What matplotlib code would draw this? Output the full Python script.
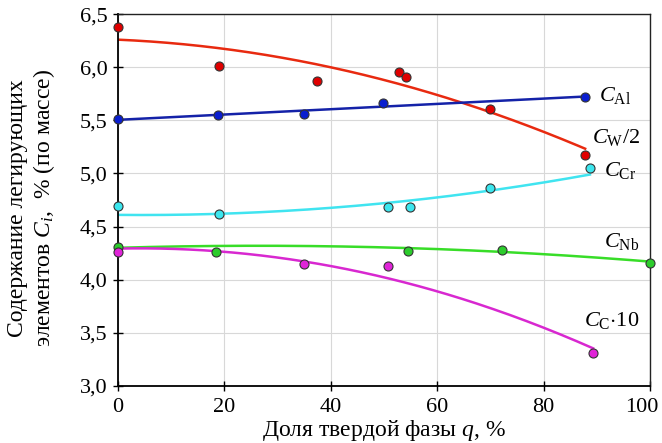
import numpy as np
import matplotlib.pyplot as plt
from matplotlib.ticker import FuncFormatter
from matplotlib.transforms import ScaledTranslation

plt.rcParams['font.family'] = ['Liberation Serif', 'DejaVu Serif']
plt.rcParams['mathtext.fontset'] = 'custom'
plt.rcParams['mathtext.rm'] = 'Liberation Serif'
plt.rcParams['mathtext.it'] = 'Liberation Serif:italic'

# measured points: solid fraction q (%) vs element content
q_w = [0, 19, 37.5, 52.9, 54.2, 69.9, 87.8]
c_w = [6.38, 6.01, 5.87, 5.96, 5.91, 5.61, 5.17]

q_al = [0, 18.9, 34.9, 49.9, 87.8]
c_al = [5.51, 5.55, 5.56, 5.66, 5.72]

q_cr = [0, 19, 50.8, 54.8, 69.9, 88.7]
c_cr = [4.69, 4.62, 4.68, 4.68, 4.86, 5.05]

q_nb = [0, 18.4, 54.6, 72.1, 100]
c_nb = [4.31, 4.26, 4.27, 4.28, 4.16]

q_c = [0, 34.9, 50.8, 89.3]
c_c = [4.26, 4.15, 4.13, 3.31]

# trend lines: polynomial coefficients (highest power first)
trend_w = [-1.086e-4, -2.16e-3, 6.26]
trend_al = [2.5e-3, 5.505]
trend_cr = [5.39e-5, -4.98e-4, 4.61]
trend_nb = [-2.75e-5, 1.45e-3, 4.30]
trend_c = [-1.30e-4, 1.09e-3, 4.2925]

series = [
    (q_w, c_w, trend_w, '#e00000', '#e82a10'),
    (q_al, c_al, trend_al, '#0a1ed0', '#1422a8'),
    (q_cr, c_cr, trend_cr, '#3ce6ee', '#40e4f0'),
    (q_nb, c_nb, trend_nb, '#2ccc2c', '#38dd28'),
    (q_c, c_c, trend_c, '#e024d8', '#d828d0'),
]

fig = plt.figure(figsize=(6.62, 4.43), dpi=100)
ax = fig.add_axes([0.178, 0.129, 0.804, 0.839])

for q, c, coef, pc, lc in series:
    xs = np.linspace(min(q), max(q), 200)
    ax.plot(xs, np.polyval(coef, xs), color=lc, lw=1.8, zorder=2)
    ax.plot(q, c, 'o', ms=6.5, mfc=pc, mec='#333333', mew=0.8, zorder=3,
            clip_on=False)

ax.set_xlim(0, 100)
ax.set_ylim(3.0, 6.5)
ax.set_xticks(np.arange(0, 101, 20))
ax.set_yticks(np.arange(3.0, 6.51, 0.5))
ax.yaxis.set_major_formatter(FuncFormatter(lambda v, p: f'{v:.1f}'.replace('.', ',')))
ax.grid(True, color='#d8d8d8', lw=0.8)
ax.set_axisbelow(True)
ax.tick_params(labelsize=16, length=7, width=1, direction='inout')
ax.tick_params(axis='x', pad=5)
ax.tick_params(axis='y', pad=4)

# pull the "100" label slightly inside the figure
last = ax.get_xticklabels()[-1]
last.set_transform(last.get_transform() + ScaledTranslation(-6 / 72, 0, fig.dpi_scale_trans))

for s in ['left', 'bottom']:
    ax.spines[s].set_linewidth(1.3)
    ax.spines[s].set_color('black')
for s in ['top', 'right']:
    ax.spines[s].set_linewidth(1.0)
    ax.spines[s].set_color('#222222')

ax.set_xlabel('Доля твердой фазы $\\mathit{q}$, %', fontsize=17, labelpad=1)
ax.set_ylabel('Содержание легирующих\nэлементов $\\mathit{C_i}$,  % (по массе)',
              fontsize=17, linespacing=1.12)
ax.yaxis.set_label_coords(-0.115, 0.478)

lbl = dict(fontsize=16, ha='left', va='baseline')
ax.text(90.4, 5.68, '$\\mathit{C}_{\\mathrm{Al}}$', **lbl)
ax.text(89.1, 5.29, '$\\mathit{C}_{\\mathrm{W}}$/2', **lbl)
ax.text(91.3, 4.98, '$\\mathit{C}_{\\mathrm{Cr}}$', **lbl)
ax.text(91.3, 4.31, '$\\mathit{C}_{\\mathrm{Nb}}$', **lbl)
ax.text(87.6, 3.56, '$\\mathit{C}_{\\mathrm{C}}$$\\cdot$10', **lbl)

fig.savefig('out.png', dpi=100)
